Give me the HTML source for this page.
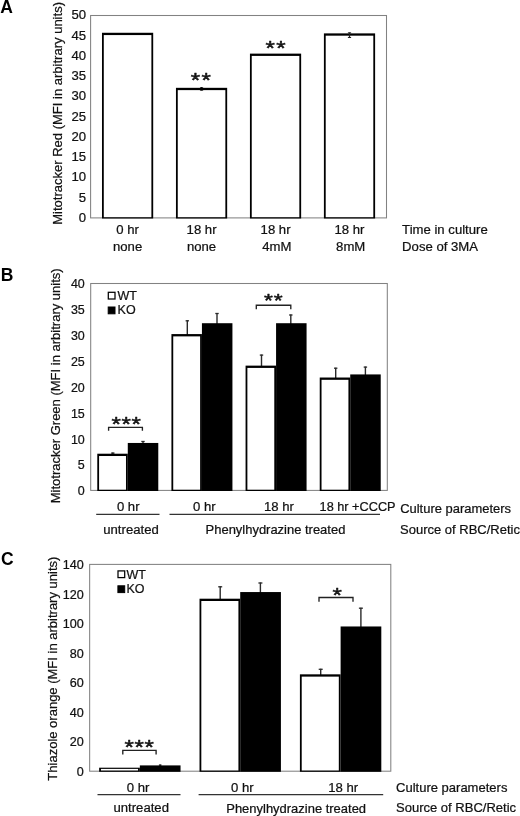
<!DOCTYPE html>
<html lang="en"><head><meta charset="utf-8"><title>Figure</title>
<style>
html,body{margin:0;padding:0;background:#fff;}
body{width:520px;height:816px;overflow:hidden;}
svg{display:block;}
svg text{font-family:"Liberation Sans",Arial,Helvetica,sans-serif;}
</style></head><body>
<svg width="520" height="816" viewBox="0 0 520 816">
<rect width="520" height="816" fill="#fff"/>
<rect x="90.60" y="15.50" width="295.90" height="202.40" fill="#fff" stroke="#828282" stroke-width="1.05"/>
<text transform="translate(0.30,12.70) scale(1.0,1)" text-anchor="start" font-size="17.5" font-weight="bold" fill="#000">A</text>
<text transform="translate(86.10,221.80) scale(1.095,1)" text-anchor="end" font-size="12" fill="#111" stroke="#111" stroke-width="0.22">0</text>
<text transform="translate(86.10,201.56) scale(1.095,1)" text-anchor="end" font-size="12" fill="#111" stroke="#111" stroke-width="0.22">5</text>
<text transform="translate(86.10,181.32) scale(1.095,1)" text-anchor="end" font-size="12" fill="#111" stroke="#111" stroke-width="0.22">10</text>
<text transform="translate(86.10,161.08) scale(1.095,1)" text-anchor="end" font-size="12" fill="#111" stroke="#111" stroke-width="0.22">15</text>
<text transform="translate(86.10,140.84) scale(1.095,1)" text-anchor="end" font-size="12" fill="#111" stroke="#111" stroke-width="0.22">20</text>
<text transform="translate(86.10,120.60) scale(1.095,1)" text-anchor="end" font-size="12" fill="#111" stroke="#111" stroke-width="0.22">25</text>
<text transform="translate(86.10,100.36) scale(1.095,1)" text-anchor="end" font-size="12" fill="#111" stroke="#111" stroke-width="0.22">30</text>
<text transform="translate(86.10,80.12) scale(1.095,1)" text-anchor="end" font-size="12" fill="#111" stroke="#111" stroke-width="0.22">35</text>
<text transform="translate(86.10,59.88) scale(1.095,1)" text-anchor="end" font-size="12" fill="#111" stroke="#111" stroke-width="0.22">40</text>
<text transform="translate(86.10,39.64) scale(1.095,1)" text-anchor="end" font-size="12" fill="#111" stroke="#111" stroke-width="0.22">45</text>
<text transform="translate(86.10,19.40) scale(1.095,1)" text-anchor="end" font-size="12" fill="#111" stroke="#111" stroke-width="0.22">50</text>
<text transform="translate(62.40,113.40) rotate(-90) scale(0.972,1)" text-anchor="middle" font-size="13.4" fill="#111" stroke="#111" stroke-width="0.22">Mitotracker Red (MFI in arbitrary units)</text>
<rect x="101.99" y="32.77" width="51.20" height="185.73" fill="#000"/>
<rect x="103.79" y="35.07" width="47.60" height="182.13" fill="#fff"/>
<rect x="175.96" y="87.82" width="51.20" height="130.68" fill="#000"/>
<rect x="177.76" y="90.12" width="47.60" height="127.08" fill="#fff"/>
<rect x="249.94" y="53.62" width="51.20" height="164.88" fill="#000"/>
<rect x="251.74" y="55.92" width="47.60" height="161.28" fill="#fff"/>
<rect x="323.91" y="33.38" width="51.20" height="185.12" fill="#000"/>
<rect x="325.71" y="35.68" width="47.60" height="181.52" fill="#fff"/>
<ellipse cx="201.56" cy="88.97" rx="2.0" ry="1.9" fill="#000"/>
<line x1="349.51" y1="32.53" x2="349.51" y2="37.83" stroke="#222" stroke-width="1.3"/>
<line x1="347.91" y1="32.83" x2="351.11" y2="32.83" stroke="#222" stroke-width="1.0"/>
<line x1="347.91" y1="37.53" x2="351.11" y2="37.53" stroke="#222" stroke-width="1.0"/>
<text transform="translate(201.50,87.00) scale(1.2,1)" text-anchor="middle" font-size="20" fill="#111" letter-spacing="1.1" stroke="#111" stroke-width="0.5" stroke-linejoin="round">**</text>
<text transform="translate(276.20,54.70) scale(1.2,1)" text-anchor="middle" font-size="20" fill="#111" letter-spacing="1.1" stroke="#111" stroke-width="0.5" stroke-linejoin="round">**</text>
<text transform="translate(127.59,233.70) scale(1.095,1)" text-anchor="middle" font-size="12" fill="#111" stroke="#111" stroke-width="0.22">0 hr</text>
<text transform="translate(127.59,251.20) scale(1.095,1)" text-anchor="middle" font-size="12" fill="#111" stroke="#111" stroke-width="0.22">none</text>
<text transform="translate(201.56,233.70) scale(1.095,1)" text-anchor="middle" font-size="12" fill="#111" stroke="#111" stroke-width="0.22">18 hr</text>
<text transform="translate(201.56,251.20) scale(1.095,1)" text-anchor="middle" font-size="12" fill="#111" stroke="#111" stroke-width="0.22">none</text>
<text transform="translate(275.54,233.70) scale(1.095,1)" text-anchor="middle" font-size="12" fill="#111" stroke="#111" stroke-width="0.22">18 hr</text>
<text transform="translate(276.74,251.20) scale(1.095,1)" text-anchor="middle" font-size="12" fill="#111" stroke="#111" stroke-width="0.22">4mM</text>
<text transform="translate(349.51,233.70) scale(1.095,1)" text-anchor="middle" font-size="12" fill="#111" stroke="#111" stroke-width="0.22">18 hr</text>
<text transform="translate(350.71,251.20) scale(1.095,1)" text-anchor="middle" font-size="12" fill="#111" stroke="#111" stroke-width="0.22">8mM</text>
<text transform="translate(402.10,233.70) scale(1.095,1)" text-anchor="start" font-size="12" fill="#111" stroke="#111" stroke-width="0.22">Time in culture</text>
<text transform="translate(402.10,251.20) scale(1.095,1)" text-anchor="start" font-size="12" fill="#111" stroke="#111" stroke-width="0.22">Dose of 3MA</text>
<rect x="90.70" y="283.50" width="296.60" height="206.90" fill="#fff" stroke="#828282" stroke-width="1.05"/>
<text transform="translate(0.70,280.80) scale(1.0,1)" text-anchor="start" font-size="17.5" font-weight="bold" fill="#000">B</text>
<text transform="translate(84.80,495.30) scale(1.04,1)" text-anchor="end" font-size="12" fill="#111" stroke="#111" stroke-width="0.22">0</text>
<text transform="translate(84.80,469.44) scale(1.04,1)" text-anchor="end" font-size="12" fill="#111" stroke="#111" stroke-width="0.22">5</text>
<text transform="translate(84.80,443.57) scale(1.04,1)" text-anchor="end" font-size="12" fill="#111" stroke="#111" stroke-width="0.22">10</text>
<text transform="translate(84.80,417.71) scale(1.04,1)" text-anchor="end" font-size="12" fill="#111" stroke="#111" stroke-width="0.22">15</text>
<text transform="translate(84.80,391.85) scale(1.04,1)" text-anchor="end" font-size="12" fill="#111" stroke="#111" stroke-width="0.22">20</text>
<text transform="translate(84.80,365.99) scale(1.04,1)" text-anchor="end" font-size="12" fill="#111" stroke="#111" stroke-width="0.22">25</text>
<text transform="translate(84.80,340.12) scale(1.04,1)" text-anchor="end" font-size="12" fill="#111" stroke="#111" stroke-width="0.22">30</text>
<text transform="translate(84.80,314.26) scale(1.04,1)" text-anchor="end" font-size="12" fill="#111" stroke="#111" stroke-width="0.22">35</text>
<text transform="translate(84.80,288.40) scale(1.04,1)" text-anchor="end" font-size="12" fill="#111" stroke="#111" stroke-width="0.22">40</text>
<text transform="translate(60.20,385.80) rotate(-90) scale(0.994,1)" text-anchor="middle" font-size="13.1" fill="#111" stroke="#111" stroke-width="0.22">Mitotracker Green (MFI in arbitrary units)</text>
<line x1="112.80" y1="452.60" x2="112.80" y2="454.86" stroke="#2a2a2a" stroke-width="1.4"/>
<line x1="111.10" y1="453.10" x2="114.50" y2="453.10" stroke="#2a2a2a" stroke-width="1.3"/>
<line x1="143.00" y1="441.00" x2="143.00" y2="444.11" stroke="#2a2a2a" stroke-width="1.4"/>
<line x1="141.30" y1="441.50" x2="144.70" y2="441.50" stroke="#2a2a2a" stroke-width="1.3"/>
<rect x="97.28" y="453.71" width="30.50" height="37.29" fill="#000"/>
<rect x="99.08" y="456.01" width="26.90" height="33.69" fill="#fff"/>
<rect x="127.78" y="442.96" width="30.50" height="48.04" fill="#000"/>
<line x1="187.30" y1="320.30" x2="187.30" y2="335.23" stroke="#2a2a2a" stroke-width="1.4"/>
<line x1="185.60" y1="320.80" x2="189.00" y2="320.80" stroke="#2a2a2a" stroke-width="1.3"/>
<line x1="217.00" y1="313.00" x2="217.00" y2="324.36" stroke="#2a2a2a" stroke-width="1.4"/>
<line x1="215.30" y1="313.50" x2="218.70" y2="313.50" stroke="#2a2a2a" stroke-width="1.3"/>
<rect x="171.43" y="334.08" width="30.50" height="156.92" fill="#000"/>
<rect x="173.23" y="336.38" width="26.90" height="153.32" fill="#fff"/>
<rect x="201.93" y="323.21" width="30.50" height="167.79" fill="#000"/>
<line x1="261.50" y1="354.60" x2="261.50" y2="366.78" stroke="#2a2a2a" stroke-width="1.4"/>
<line x1="259.80" y1="355.10" x2="263.20" y2="355.10" stroke="#2a2a2a" stroke-width="1.3"/>
<line x1="290.80" y1="314.50" x2="290.80" y2="324.36" stroke="#2a2a2a" stroke-width="1.4"/>
<line x1="289.10" y1="315.00" x2="292.50" y2="315.00" stroke="#2a2a2a" stroke-width="1.3"/>
<rect x="245.57" y="365.63" width="30.50" height="125.37" fill="#000"/>
<rect x="247.38" y="367.93" width="26.90" height="121.77" fill="#fff"/>
<rect x="276.07" y="323.21" width="30.50" height="167.79" fill="#000"/>
<line x1="335.70" y1="367.70" x2="335.70" y2="378.67" stroke="#2a2a2a" stroke-width="1.4"/>
<line x1="334.00" y1="368.20" x2="337.40" y2="368.20" stroke="#2a2a2a" stroke-width="1.3"/>
<line x1="365.40" y1="366.60" x2="365.40" y2="375.57" stroke="#2a2a2a" stroke-width="1.4"/>
<line x1="363.70" y1="367.10" x2="367.10" y2="367.10" stroke="#2a2a2a" stroke-width="1.3"/>
<rect x="319.73" y="377.52" width="30.50" height="113.48" fill="#000"/>
<rect x="321.53" y="379.82" width="26.90" height="109.88" fill="#fff"/>
<rect x="350.23" y="374.42" width="30.50" height="116.58" fill="#000"/>
<rect x="108.30" y="292.30" width="6.70" height="6.70" fill="#fff" stroke="#000" stroke-width="1.25"/>
<text transform="translate(117.60,300.00) scale(1.04,1)" text-anchor="start" font-size="12" fill="#111" stroke="#111" stroke-width="0.22">WT</text>
<rect x="108.20" y="307.00" width="6.80" height="6.80" fill="#000" stroke="#000" stroke-width="1"/>
<text transform="translate(117.60,314.20) scale(1.04,1)" text-anchor="start" font-size="12" fill="#111" stroke="#111" stroke-width="0.22">KO</text>
<path d="M108.60,430.80 V427.30 H142.40 V430.80" fill="none" stroke="#222" stroke-width="1.35"/>
<text transform="translate(126.50,431.10) scale(1.2,1)" text-anchor="middle" font-size="20" fill="#111" letter-spacing="0.6" stroke="#111" stroke-width="0.5" stroke-linejoin="round">***</text>
<path d="M256.30,309.20 V305.20 H290.80 V309.20" fill="none" stroke="#222" stroke-width="1.35"/>
<text transform="translate(273.80,306.91) scale(1.2,1)" text-anchor="middle" font-size="19" fill="#111" letter-spacing="0.8" stroke="#111" stroke-width="0.5" stroke-linejoin="round">**</text>
<text transform="translate(128.20,511.00) scale(1.095,1)" text-anchor="middle" font-size="12" fill="#111" stroke="#111" stroke-width="0.22">0 hr</text>
<text transform="translate(204.30,511.00) scale(1.095,1)" text-anchor="middle" font-size="12" fill="#111" stroke="#111" stroke-width="0.22">0 hr</text>
<text transform="translate(279.00,511.00) scale(1.095,1)" text-anchor="middle" font-size="12" fill="#111" stroke="#111" stroke-width="0.22">18 hr</text>
<text transform="translate(319.60,511.00) scale(1.06,1)" text-anchor="start" font-size="12" fill="#111" stroke="#111" stroke-width="0.22">18 hr +CCCP</text>
<line x1="96.20" y1="514.40" x2="159.50" y2="514.40" stroke="#333" stroke-width="1.3"/>
<line x1="169.50" y1="514.40" x2="380.00" y2="514.40" stroke="#333" stroke-width="1.3"/>
<text transform="translate(131.00,534.30) scale(1.095,1)" text-anchor="middle" font-size="12" fill="#111" stroke="#111" stroke-width="0.22">untreated</text>
<text transform="translate(275.45,534.30) scale(1.081,1)" text-anchor="middle" font-size="12" fill="#111" stroke="#111" stroke-width="0.22">Phenylhydrazine treated</text>
<text transform="translate(400.20,513.30) scale(1.08,1)" text-anchor="start" font-size="12" fill="#111" stroke="#111" stroke-width="0.22">Culture parameters</text>
<text transform="translate(400.10,533.50) scale(1.083,1)" text-anchor="start" font-size="12" fill="#111" stroke="#111" stroke-width="0.22">Source of RBC/Retic</text>
<rect x="89.65" y="564.40" width="301.15" height="206.80" fill="#fff" stroke="#828282" stroke-width="1.05"/>
<text transform="translate(1.00,565.00) scale(1.0,1)" text-anchor="start" font-size="17.5" font-weight="bold" fill="#000">C</text>
<text transform="translate(83.70,776.00) scale(1.05,1)" text-anchor="end" font-size="12" fill="#111" stroke="#111" stroke-width="0.22">0</text>
<text transform="translate(83.70,746.46) scale(1.05,1)" text-anchor="end" font-size="12" fill="#111" stroke="#111" stroke-width="0.22">20</text>
<text transform="translate(83.70,716.91) scale(1.05,1)" text-anchor="end" font-size="12" fill="#111" stroke="#111" stroke-width="0.22">40</text>
<text transform="translate(83.70,687.37) scale(1.05,1)" text-anchor="end" font-size="12" fill="#111" stroke="#111" stroke-width="0.22">60</text>
<text transform="translate(83.70,657.83) scale(1.05,1)" text-anchor="end" font-size="12" fill="#111" stroke="#111" stroke-width="0.22">80</text>
<text transform="translate(83.70,628.29) scale(1.05,1)" text-anchor="end" font-size="12" fill="#111" stroke="#111" stroke-width="0.22">100</text>
<text transform="translate(83.70,598.74) scale(1.05,1)" text-anchor="end" font-size="12" fill="#111" stroke="#111" stroke-width="0.22">120</text>
<text transform="translate(83.70,569.20) scale(1.05,1)" text-anchor="end" font-size="12" fill="#111" stroke="#111" stroke-width="0.22">140</text>
<text transform="translate(56.80,668.65) rotate(-90) scale(0.993,1)" text-anchor="middle" font-size="13.1" fill="#111" stroke="#111" stroke-width="0.22">Thiazole orange (MFI in arbitrary units)</text>
<line x1="160.20" y1="764.60" x2="160.20" y2="766.55" stroke="#2a2a2a" stroke-width="1.4"/>
<line x1="158.90" y1="765.10" x2="161.50" y2="765.10" stroke="#2a2a2a" stroke-width="1.3"/>
<rect x="99.14" y="767.70" width="40.70" height="4.10" fill="#000"/>
<rect x="100.94" y="768.90" width="37.10" height="1.60" fill="#fff"/>
<rect x="139.84" y="765.40" width="40.70" height="6.40" fill="#000"/>
<line x1="220.20" y1="586.30" x2="220.20" y2="599.85" stroke="#2a2a2a" stroke-width="1.4"/>
<line x1="218.20" y1="586.80" x2="222.20" y2="586.80" stroke="#2a2a2a" stroke-width="1.3"/>
<line x1="260.40" y1="582.50" x2="260.40" y2="593.20" stroke="#2a2a2a" stroke-width="1.4"/>
<line x1="258.40" y1="583.00" x2="262.40" y2="583.00" stroke="#2a2a2a" stroke-width="1.3"/>
<rect x="199.52" y="598.70" width="40.70" height="173.10" fill="#000"/>
<rect x="201.32" y="601.00" width="37.10" height="169.50" fill="#fff"/>
<rect x="240.22" y="592.05" width="40.70" height="179.75" fill="#000"/>
<line x1="320.70" y1="668.80" x2="320.70" y2="675.48" stroke="#2a2a2a" stroke-width="1.4"/>
<line x1="318.70" y1="669.30" x2="322.70" y2="669.30" stroke="#2a2a2a" stroke-width="1.3"/>
<line x1="360.90" y1="607.70" x2="360.90" y2="627.62" stroke="#2a2a2a" stroke-width="1.4"/>
<line x1="358.90" y1="608.20" x2="362.90" y2="608.20" stroke="#2a2a2a" stroke-width="1.3"/>
<rect x="299.91" y="674.33" width="40.70" height="97.47" fill="#000"/>
<rect x="301.71" y="676.63" width="37.10" height="93.87" fill="#fff"/>
<rect x="340.61" y="626.47" width="40.70" height="145.33" fill="#000"/>
<rect x="118.00" y="570.90" width="6.70" height="6.70" fill="#fff" stroke="#000" stroke-width="1.25"/>
<text transform="translate(126.40,578.50) scale(1.04,1)" text-anchor="start" font-size="12" fill="#111" stroke="#111" stroke-width="0.22">WT</text>
<rect x="117.90" y="585.80" width="6.80" height="6.80" fill="#000" stroke="#000" stroke-width="1"/>
<text transform="translate(126.40,593.00) scale(1.04,1)" text-anchor="start" font-size="12" fill="#111" stroke="#111" stroke-width="0.22">KO</text>
<path d="M122.80,754.40 V750.40 H156.10 V754.40" fill="none" stroke="#222" stroke-width="1.35"/>
<text transform="translate(139.50,754.20) scale(1.2,1)" text-anchor="middle" font-size="20" fill="#111" letter-spacing="0.6" stroke="#111" stroke-width="0.5" stroke-linejoin="round">***</text>
<path d="M319.00,601.70 V597.50 H353.00 V601.70" fill="none" stroke="#222" stroke-width="1.35"/>
<text transform="translate(337.90,602.40) scale(1.2,1)" text-anchor="middle" font-size="20" fill="#111" letter-spacing="1.1" stroke="#111" stroke-width="0.5" stroke-linejoin="round">*</text>
<text transform="translate(138.00,791.90) scale(1.095,1)" text-anchor="middle" font-size="12" fill="#111" stroke="#111" stroke-width="0.22">0 hr</text>
<text transform="translate(242.30,791.90) scale(1.095,1)" text-anchor="middle" font-size="12" fill="#111" stroke="#111" stroke-width="0.22">0 hr</text>
<text transform="translate(343.20,791.90) scale(1.095,1)" text-anchor="middle" font-size="12" fill="#111" stroke="#111" stroke-width="0.22">18 hr</text>
<line x1="97.50" y1="794.60" x2="180.50" y2="794.60" stroke="#333" stroke-width="1.4"/>
<line x1="198.60" y1="794.60" x2="383.20" y2="794.60" stroke="#333" stroke-width="1.4"/>
<text transform="translate(141.20,812.30) scale(1.095,1)" text-anchor="middle" font-size="12" fill="#111" stroke="#111" stroke-width="0.22">untreated</text>
<text transform="translate(296.15,812.60) scale(1.081,1)" text-anchor="middle" font-size="12" fill="#111" stroke="#111" stroke-width="0.22">Phenylhydrazine treated</text>
<text transform="translate(396.00,791.90) scale(1.085,1)" text-anchor="start" font-size="12" fill="#111" stroke="#111" stroke-width="0.22">Culture parameters</text>
<text transform="translate(396.00,812.10) scale(1.085,1)" text-anchor="start" font-size="12" fill="#111" stroke="#111" stroke-width="0.22">Source of RBC/Retic</text>
</svg>
</body></html>
